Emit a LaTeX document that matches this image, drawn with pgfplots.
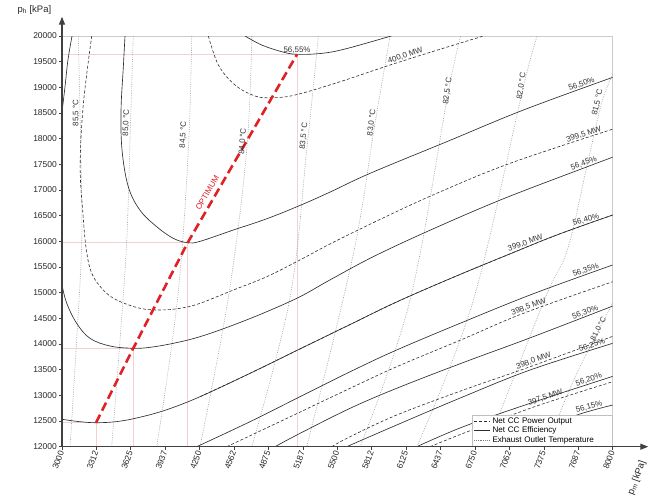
\documentclass[border=0pt]{standalone}
\usepackage{fontspec}
\setmainfont{Liberation Sans}
\usepackage{pgfplots}
\pgfplotsset{compat=1.18}
\usetikzlibrary{arrows.meta}
\definecolor{cline}{RGB}{45,45,45}
\definecolor{tline}{RGB}{125,125,125}
\definecolor{optred}{RGB}{224,32,36}
\definecolor{pinkg}{RGB}{245,208,208}
\pgfplotsset{
  eff/.style={draw=cline, line width=0.65pt, smooth, tension=0.6, mark=none, forget plot},
  pow/.style={draw=cline, line width=0.6pt, dash pattern=on 3pt off 2pt, smooth, tension=0.6, mark=none, forget plot},
  tmp/.style={draw=tline, line width=0.6pt, dash pattern=on 0.5pt off 1.3pt, smooth, tension=0.6, mark=none, forget plot},
  pnk/.style={draw=pinkg, line width=0.6pt, mark=none, forget plot},
}
\tikzset{
  clab/.style={font=\fontsize{8}{8.5}\selectfont, text=black!80, inner sep=0.8pt, anchor=south},
}
\begin{document}
\begin{tikzpicture}
\useasboundingbox (-62bp,-50.3bp) rectangle (592bp,446.7bp);
\begin{axis}[
  width=550.7bp, height=410.7bp, scale only axis,
  xmin=3000, xmax=8000, ymin=12000, ymax=20000,
  axis line style={draw=black!20, line width=0.6pt},
  xtick={3000,3312.5,3625,3937.5,4250,4562.5,4875,5187.5,5500,5812.5,6125,6437.5,6750,7062.5,7375,7687.5,8000},
  xticklabels={3000,3312,3625,3937,4250,4562,4875,5187,5500,5812,6125,6437,6750,7062,7375,7687,8000},
  ytick={12000,12500,...,20000},
  scaled ticks=false,
  xtick pos=bottom, ytick pos=left,
  tick align=outside, major tick length=3bp,
  tick style={draw=black!75, line width=0.7pt},
  xticklabel style={rotate=70, anchor=east, font=\fontsize{8.5}{9}\selectfont, text=black!85, inner sep=1.5pt},
  yticklabel style={font=\fontsize{8.5}{9}\selectfont, text=black!85, inner sep=2pt,
    /pgf/number format/1000 sep={}, /pgf/number format/assume math mode=true},
  legend style={at={(rel axis cs:1,0)}, anchor=south east, draw=black!25, fill=white,
    font=\fontsize{8.1}{9}\selectfont, inner xsep=2pt, inner ysep=0.6pt, row sep=-1.8pt,
    cells={anchor=west}, nodes={text width=116bp, align=left}},
  legend image code/.code={\draw[#1] (0bp,0bp) -- (16bp,0bp);},
  clip=true,
]
\addlegendimage{draw=cline, line width=0.6pt, dash pattern=on 3pt off 2pt}
\addlegendentry{Net CC Power Output}
\addlegendimage{draw=cline, line width=0.65pt}
\addlegendentry{Net CC Efficiency}
\addlegendimage{draw=tline, line width=0.6pt, dash pattern=on 0.5pt off 1.3pt}
\addlegendentry{Exhaust Outlet Temperature}

% optimum guide lines
\addplot[pnk] coordinates {(3000,12467) (3309,12467) (3309,12000)};
\addplot[pnk] coordinates {(3000,13917) (3647,13917) (3647,12000)};
\addplot[pnk] coordinates {(3000,15974) (4141,15974) (4141,12000)};
\addplot[pnk] coordinates {(3000,19643) (5134,19643) (5134,12000)};

% exhaust outlet temperature
\addplot[tmp] coordinates {(3148,20000) (3170,17800) (3179,16000) (3133,14078) (3073,12000)};
\addplot[tmp] coordinates {(3647,20000) (3622,18300) (3588,16026) (3527,14078) (3451,12000)};
\addplot[tmp] coordinates {(4178,20000) (4147,17779) (4050,14900) (3860,12000)};
\addplot[tmp] coordinates {(4723,20000) (4677,17779) (4510,14900) (4253,12000)};
\addplot[tmp] coordinates {(5328,20000) (5222,17779) (5070,14900) (4723,12000)};
\addplot[tmp] coordinates {(5979,20000) (5842,18300) (5640,15700) (5222,12000)};
\addplot[tmp] coordinates {(6621,20000) (6508,18915) (6160,14857) (5706,12000)};
\addplot[tmp] coordinates {(7316,20000) (7189,19012) (6735,14857) (6221,12000)};
\addplot[tmp] coordinates {(8000,19250) (7900,18700) (7765,17454) (7590,15845) (7380,14857) (6857,12000)};
\addplot[tmp] coordinates {(8000,14800) (7795,13948) (7660,13360) (7520,12650) (7420,12000)};

% net CC efficiency
\addplot[eff] coordinates {(4662,20000) (4813,19825) (4995,19694) (5134,19643) (5358,19662) (5570,19747) (5979,19994) (6000,20010)};
\addplot[eff] coordinates {(3572,20000) (3557,19401) (3536,18558) (3545,17779) (3602,17064) (3708,16607) (3860,16285) (4011,16058) (4141,15974) (4253,16000) (4556,16221) (4859,16440) (5161,16700) (5434,16960) (5797,17325) (6493,17941) (7189,18558) (8000,19195)};
\addplot[eff] coordinates {(3000,18520) (3027,19006) (3054,19532) (3091,20000)};
\addplot[eff] coordinates {(3000,15150) (3043,14793) (3133,14404) (3254,14111) (3436,13961) (3647,13917) (3799,13936) (4011,14014) (4253,14143) (4556,14370) (4859,14630) (5161,14922) (5434,15250) (5827,15702) (6342,16217) (7008,16830) (7765,17450) (8000,17640)};
\addplot[eff] coordinates {(3000,12534) (3150,12490) (3309,12467) (3500,12490) (3700,12570) (3950,12720) (4253,12974) (4707,13429) (5161,13905) (5616,14380) (6039,14820) (6553,15300) (7038,15730) (7500,16130) (8000,16513)};
\addplot[eff] coordinates {(4223,12000) (4707,12487) (5161,12974) (5616,13460) (6039,13884) (6644,14430) (7280,14980) (8000,15540)};
\addplot[eff] coordinates {(4934,12000) (5161,12260) (5616,12748) (6039,13138) (6644,13640) (7250,14120) (8000,14740)};
\addplot[eff] coordinates {(5585,12000) (6039,12423) (6644,12974) (7250,13494) (8000,14014)};
\addplot[eff] coordinates {(6221,12000) (6644,12390) (7250,12845) (8000,13370)};
\addplot[eff] coordinates {(6900,12000) (7300,12300) (7674,12617) (8000,12812)};

% net CC power output
\addplot[pow] coordinates {(4329,20000) (4420,19435) (4571,19046) (4753,18831) (4904,18798) (5116,18850) (5525,19110) (5979,19435) (6400,19720) (6826,20000)};
\addplot[pow] coordinates {(3270,20000) (3193,18656) (3165,17454) (3190,16545) (3220,15850) (3270,15377) (3375,15052) (3497,14857) (3708,14696) (3890,14663) (4072,14696) (4253,14793) (4556,15052) (4859,15311) (5161,15638) (5434,15950) (5900,16440) (6403,16936) (7068,17520) (8000,18185)};
\addplot[pow] coordinates {(4253,12974) (4707,13429) (5161,13905) (5616,14380) (6039,14820) (6553,15300) (7038,15730) (7500,16130) (8000,16513)};
\addplot[pow] coordinates {(4496,12000) (5010,12520) (5616,13138) (6039,13558) (6644,14100) (7189,14598) (8000,15214)};
\addplot[pow] coordinates {(5449,12000) (5616,12195) (6039,12617) (6644,13104) (7250,13558) (8000,14150)};
\addplot[pow] coordinates {(6342,12000) (6644,12261) (7250,12748) (7650,13030) (8000,13266)};

% optimum line
\addplot[draw=optred, line width=2.6pt, dash pattern=on 9pt off 4.5pt, mark=none, forget plot] coordinates {(3309,12467) (3647,13917) (4141,15974) (5134,19643)};
\node[font=\fontsize{8.2}{9}\selectfont, text=optred, rotate=60] at (axis cs:4320,16950) {OPTIMUM};

% efficiency labels
\node[clab] at (axis cs:5134,19643) {56,55\%};
\node[clab, rotate=20] at (axis cs:7731,18984) {56,50\%};
\node[clab, rotate=20] at (axis cs:7750,17442) {56,45\%};
\node[clab, rotate=16] at (axis cs:7768,16335) {56,40\%};
\node[clab, rotate=20] at (axis cs:7768,15360) {56,35\%};
\node[clab, rotate=20] at (axis cs:7764,14540) {56,30\%};
\node[clab, rotate=18] at (axis cs:7825,13897) {56,25\%};
\node[clab, rotate=18] at (axis cs:7795,13226) {56,20\%};
\node[clab, rotate=15] at (axis cs:7795,12690) {56,15\%};
% power labels
\node[clab, rotate=19] at (axis cs:6130,19537) {400,0 MW};
\node[clab, rotate=18] at (axis cs:7750,18007) {399,5 MW};
\node[clab, rotate=19] at (axis cs:7220,15888) {399,0 MW};
\node[clab, rotate=20] at (axis cs:7250,14644) {398,5 MW};
\node[clab, rotate=20] at (axis cs:7296,13594) {398,0 MW};
\node[clab, rotate=20] at (axis cs:7402,12878) {397,5 MW};
% temperature labels
\node[clab, rotate=90] at (axis cs:3168,18500) {85,5 °C};
\node[clab, rotate=88] at (axis cs:3622,18305) {85,0 °C};
\node[clab, rotate=87] at (axis cs:4140,18070) {84,5 °C};
\node[clab, rotate=86] at (axis cs:4680,17940) {84,0 °C};
\node[clab, rotate=84] at (axis cs:5235,18040) {83,5 °C};
\node[clab, rotate=83] at (axis cs:5850,18300) {83,0 °C};
\node[clab, rotate=82] at (axis cs:6540,18915) {82,5 °C};
\node[clab, rotate=82] at (axis cs:7210,19012) {82,0 °C};
\node[clab, rotate=78] at (axis cs:7900,18690) {81,5 °C};
\node[clab, rotate=63, font=\fontsize{7.6}{8}\selectfont] at (axis cs:7905,14255) {81,0 °C};
\end{axis}
\draw[line width=1.3pt, black!75, -{Stealth[length=8bp,width=6bp,inset=0pt]}] (0,0) -- (586.3bp,0);
\draw[line width=1.3pt, black!75, -{Stealth[length=8bp,width=6bp,inset=0pt]}] (0,0) -- (0,430bp);
\node[font=\fontsize{9.5}{10}\selectfont, text=black!85, rotate=70] at (575bp,-31bp) {p\textsubscript{m} [kPa]};
\node[font=\fontsize{9.5}{10}\selectfont, text=black!85, anchor=west] at (-48bp,437bp) {p\textsubscript{h} [kPa]};
\end{tikzpicture}
\end{document}
